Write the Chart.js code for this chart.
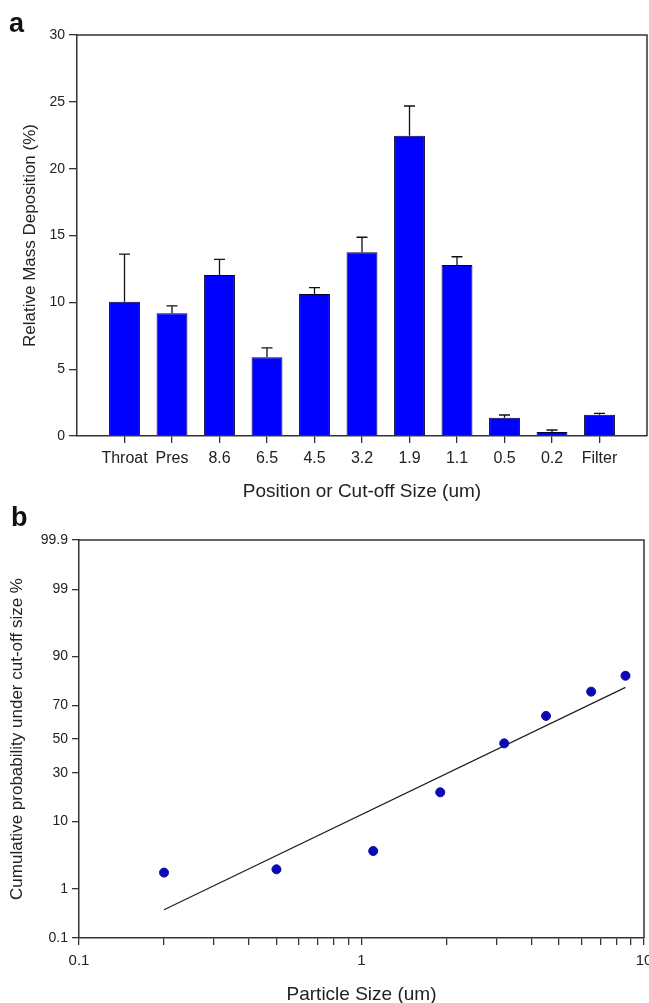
<!DOCTYPE html>
<html>
<head>
<meta charset="utf-8">
<script src="https://cdn.jsdelivr.net/npm/chart.js@4.4.1/dist/chart.umd.min.js"></script>
<style>
html, body { margin: 0; padding: 0; background: #fff; overflow: hidden; width: 649px; height: 1003px; }
#page { position: relative; width: 649px; height: 1003px; overflow: hidden; }
canvas { position: absolute; left: 0; }
#chartA { top: 0; }
#chartB { top: 510px; }
.panel { position: absolute; font: bold 27px 'Liberation Sans', Arial, sans-serif; line-height: 27px; color: #111; }
</style>
</head>
<body>
<div id="page">
  <canvas id="chartA" width="649" height="510"></canvas>
  <canvas id="chartB" width="665" height="510"></canvas>
  <div class="panel" style="left:9px; top:10px;">a</div>
  <div class="panel" style="left:11px; top:504px;">b</div>
</div>
<script>
// panel a
const stageLabels = ['Throat', 'Pres', '8.6', '6.5', '4.5', '3.2', '1.9', '1.1', '0.5', '0.2', 'Filter'];
const massDeposition = [10.05, 9.18, 12.04, 5.89, 10.62, 13.74, 22.47, 12.79, 1.37, 0.30, 1.59];
const massError = [3.55, 0.55, 1.18, 0.71, 0.48, 1.13, 2.22, 0.62, 0.20, 0.15, 0.11];
const massTicks = [0, 5, 10, 15, 20, 25, 30];

// panel b
const cutoffSizes = [0.2, 0.5, 1.1, 1.9, 3.2, 4.5, 6.5, 8.6];
const cumulativePct = [1.9, 2.15, 4.1, 20.4, 47.3, 64.0, 76.9, 83.7];
const fitSizes = [0.2, 8.6];
const fitPct = [0.4, 78.9];
const probTicks = [0.1, 1, 10, 30, 50, 70, 90, 99, 99.9];
const sizeTicks = [0.1, 0.2, 0.3, 0.4, 0.5, 0.6, 0.7, 0.8, 0.9, 1, 2, 3, 4, 5, 6, 7, 8, 9, 10];
const sizeLabels = [0.1, 1, 10];

const FONT = "'Liberation Sans', Arial, sans-serif";
const TEXT_COLOR = '#222';
const AXIS_COLOR = '#333';

// inverse of the standard normal cdf (Acklam)
function probit(p) {
    const a = [-3.969683028665376e+01, 2.209460984245205e+02, -2.759285104469687e+02, 1.383577518672690e+02, -3.066479806614716e+01, 2.506628277459239e+00];
    const b = [-5.447609879822406e+01, 1.615858368580409e+02, -1.556989798598866e+02, 6.680131188771972e+01, -1.328068155288572e+01];
    const c = [-7.784894002430293e-03, -3.223964580411365e-01, -2.400758277161838e+00, -2.549732539343734e+00, 4.374664141464968e+00, 2.938163982698783e+00];
    const d = [7.784695709041462e-03, 3.224671290700398e-01, 2.445134137142996e+00, 3.754408661907416e+00];
    const pl = 0.02425;
    let q, r;
    if (p < pl) {
        q = Math.sqrt(-2 * Math.log(p));
        return (((((c[0] * q + c[1]) * q + c[2]) * q + c[3]) * q + c[4]) * q + c[5]) / ((((d[0] * q + d[1]) * q + d[2]) * q + d[3]) * q + 1);
    }
    if (p > 1 - pl) {
        q = Math.sqrt(-2 * Math.log(1 - p));
        return -(((((c[0] * q + c[1]) * q + c[2]) * q + c[3]) * q + c[4]) * q + c[5]) / ((((d[0] * q + d[1]) * q + d[2]) * q + d[3]) * q + 1);
    }
    q = p - 0.5;
    r = q * q;
    return (((((a[0] * r + a[1]) * r + a[2]) * r + a[3]) * r + a[4]) * r + a[5]) * q / (((((b[0] * r + b[1]) * r + b[2]) * r + b[3]) * r + b[4]) * r + 1);
}

function normCdf(z) {
    // Zelen & Severo
    const t = 1 / (1 + 0.2316419 * Math.abs(z));
    const y = t * (0.319381530 + t * (-0.356563782 + t * (1.781477937 + t * (-1.821255978 + t * 1.330274429))));
    const p = 1 - Math.exp(-z * z / 2) / Math.sqrt(2 * Math.PI) * y;
    return z >= 0 ? p : 1 - p;
}

// probability axis: values in percent, spaced by their normal quantile
class ProbitScale extends Chart.LinearScale {
    static id = 'probit';
    buildTicks() {
        return probTicks.map(v => ({ value: v }));
    }
    configure() {
        super.configure();
        this._startValue = probit(this.min / 100);
        this._endValue = probit(this.max / 100);
        this._valueRange = this._endValue - this._startValue;
    }
    getPixelForValue(value) {
        return this.getPixelForDecimal((probit(value / 100) - this._startValue) / this._valueRange);
    }
    getValueForPixel(pixel) {
        return 100 * normCdf(this._startValue + this.getDecimalForPixel(pixel) * this._valueRange);
    }
}
Chart.register(ProbitScale);

const frame = {
    id: 'frame',
    afterDraw(chart) {
        const { ctx, chartArea: a } = chart;
        ctx.save();
        ctx.strokeStyle = AXIS_COLOR;
        ctx.lineWidth = 1.5;
        ctx.beginPath();
        ctx.moveTo(a.left, a.top);
        ctx.lineTo(a.right, a.top);
        ctx.lineTo(a.right, a.bottom);
        ctx.stroke();
        ctx.restore();
    }
};

const errorBars = {
    id: 'errorBars',
    afterDatasetsDraw(chart) {
        const ctx = chart.ctx;
        const xs = chart.scales.x;
        const ys = chart.scales.y;
        ctx.save();
        ctx.strokeStyle = '#111';
        ctx.lineWidth = 1.3;
        massDeposition.forEach((v, i) => {
            const x = xs.getPixelForValue(i);
            const y0 = ys.getPixelForValue(v);
            const y1 = ys.getPixelForValue(v + massError[i]);
            ctx.beginPath();
            ctx.moveTo(x, y0);
            ctx.lineTo(x, y1);
            ctx.moveTo(x - 5.5, y1);
            ctx.lineTo(x + 5.5, y1);
            ctx.stroke();
        });
        ctx.restore();
    }
};

function drawChartA() {
    new Chart(document.getElementById('chartA'), {
        type: 'bar',
        data: {
            datasets: [{
                data: massDeposition.map((v, i) => ({ x: i, y: v })),
                backgroundColor: '#0000ff',
                borderColor: '#00002a',
                borderWidth: 1,
                barPercentage: 0.65,
                categoryPercentage: 1
            }]
        },
        options: {
            responsive: false,
            animation: false,
            layout: { padding: { top: 35, right: 2, left: 0, bottom: 0 } },
            plugins: { legend: { display: false }, tooltip: { enabled: false } },
            scales: {
                x: {
                    type: 'linear',
                    min: -1,
                    max: 11,
                    offset: false,
                    afterBuildTicks: ax => { ax.ticks = stageLabels.map((s, i) => ({ value: i })); },
                    afterFit: ax => { ax.height = 74; },
                    ticks: {
                        callback: v => stageLabels[v],
                        autoSkip: false,
                        maxRotation: 0,
                        padding: 6,
                        color: TEXT_COLOR,
                        font: { family: FONT, size: 16 }
                    },
                    grid: { offset: false, drawOnChartArea: false, tickLength: 7, color: AXIS_COLOR, lineWidth: 1.3 },
                    border: { color: AXIS_COLOR, width: 1.5 },
                    title: {
                        display: true,
                        text: 'Position or Cut-off Size (um)',
                        color: TEXT_COLOR,
                        font: { family: FONT, size: 19 },
                        padding: { top: 0, bottom: 7 }
                    }
                },
                y: {
                    min: 0,
                    max: 30,
                    afterBuildTicks: ax => { ax.ticks = massTicks.map(v => ({ value: v })); },
                    afterFit: ax => { ax.width = 77; },
                    ticks: { padding: 4, color: TEXT_COLOR, font: { family: FONT, size: 14 } },
                    grid: { drawOnChartArea: false, tickLength: 8, color: AXIS_COLOR, lineWidth: 1.3 },
                    border: { color: AXIS_COLOR, width: 1.5 },
                    title: {
                        display: true,
                        text: 'Relative Mass Deposition (%)',
                        color: TEXT_COLOR,
                        font: { family: FONT, size: 17 },
                        padding: { top: 20, bottom: 0 }
                    }
                }
            }
        },
        plugins: [errorBars, frame]
    });
}

function drawChartB() {
    new Chart(document.getElementById('chartB'), {
        type: 'scatter',
        data: {
            datasets: [{
                data: cutoffSizes.map((s, i) => ({ x: s, y: cumulativePct[i] })),
                pointRadius: 4.5,
                pointBackgroundColor: '#0a0ab0',
                pointBorderColor: '#0a0ab0',
                showLine: false
            }, {
                data: fitSizes.map((s, i) => ({ x: s, y: fitPct[i] })),
                showLine: true,
                pointRadius: 0,
                borderColor: '#222',
                borderWidth: 1.3
            }]
        },
        options: {
            responsive: false,
            animation: false,
            layout: { padding: { top: 30, right: 21, left: 0, bottom: 0 } },
            plugins: { legend: { display: false }, tooltip: { enabled: false } },
            scales: {
                x: {
                    type: 'logarithmic',
                    min: 0.1,
                    max: 10,
                    afterBuildTicks: ax => { ax.ticks = sizeTicks.map(v => ({ value: v })); },
                    afterFit: ax => { ax.height = 82; },
                    ticks: {
                        callback: v => sizeLabels.includes(v) ? String(v) : '',
                        autoSkip: false,
                        maxRotation: 0,
                        padding: 6.6,
                        color: TEXT_COLOR,
                        font: { family: FONT, size: 15 }
                    },
                    grid: { drawOnChartArea: false, tickLength: 7, color: AXIS_COLOR, lineWidth: 1.3 },
                    border: { color: AXIS_COLOR, width: 1.5 },
                    title: {
                        display: true,
                        text: 'Particle Size (um)',
                        color: TEXT_COLOR,
                        font: { family: FONT, size: 19 },
                        padding: { top: 0, bottom: 13.6 }
                    }
                },
                y: {
                    type: 'probit',
                    min: 0.1,
                    max: 99.9,
                    afterFit: ax => { ax.width = 79; },
                    ticks: {
                        callback: v => String(v),
                        autoSkip: false,
                        padding: 4,
                        color: TEXT_COLOR,
                        font: { family: FONT, size: 14 }
                    },
                    grid: { drawOnChartArea: false, tickLength: 7, color: AXIS_COLOR, lineWidth: 1.3 },
                    border: { color: AXIS_COLOR, width: 1.5 },
                    title: {
                        display: true,
                        text: 'Cumulative probability under cut-off size %',
                        color: TEXT_COLOR,
                        font: { family: FONT, size: 17 },
                        padding: { top: 7, bottom: 0 }
                    }
                }
            }
        },
        plugins: [frame]
    });
}

drawChartA();
drawChartB();
</script>
</body>
</html>
